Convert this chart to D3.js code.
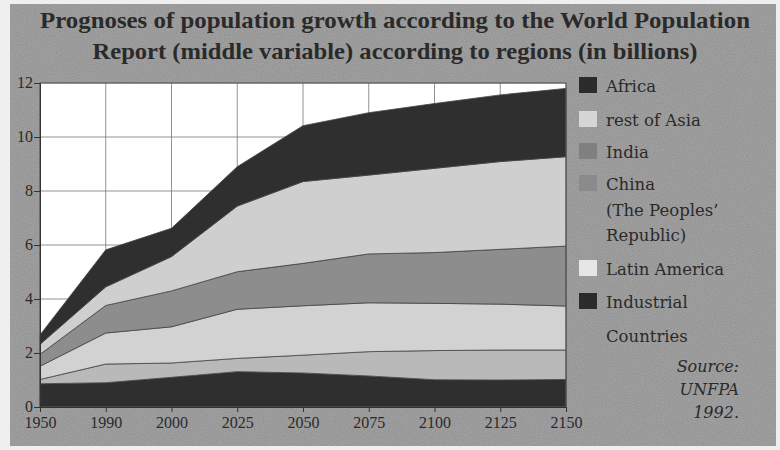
<!DOCTYPE html>
<html>
<head>
<meta charset="utf-8">
<script src="https://cdn.jsdelivr.net/npm/d3@7/dist/d3.min.js"></script>
<style>
html,body{margin:0;padding:0;background:#efefef;}
svg{display:block;}
</style>
</head>
<body>
<svg id="chart" width="780" height="450"></svg>
<script>
// ---- data ----
const years = ["1950","1990","2000","2025","2050","2075","2100","2125","2150"];
const industrial   = [0.86,0.90,1.10,1.31,1.26,1.15,1.01,1.00,1.02];
const latinAmerica = [0.16,0.69,0.53,0.49,0.66,0.90,1.08,1.11,1.09];
const china        = [0.49,1.15,1.34,1.82,1.83,1.81,1.75,1.70,1.63];
const india        = [0.44,1.02,1.33,1.39,1.57,1.81,1.88,2.03,2.22];
const restOfAsia   = [0.37,0.69,1.27,2.43,3.03,2.92,3.12,3.25,3.31];
const africa       = [0.35,1.37,1.05,1.46,2.07,2.31,2.40,2.47,2.53];
const yTicks = [0,2,4,6,8,10,12];

const seriesKeys = ["industrial","latinAmerica","china","india","restOfAsia","africa"];
const seriesValues = {industrial, latinAmerica, china, india, restOfAsia, africa};
const areaColors = {industrial:"#2f2f2f", latinAmerica:"#b9b9b9", china:"#d2d2d2", india:"#8d8d8d", restOfAsia:"#cfcfcf", africa:"#2f2f2f"};

const legendItems = [
  {lines:["Africa"], color:"#2b2b2b"},
  {lines:["rest of Asia"], color:"#d6d6d6"},
  {lines:["India"], color:"#808080"},
  {lines:["China","(The Peoples’","Republic)"], color:"#8b8b8b"},
  {lines:["Latin America"], color:"#e6e6e6"},
  {lines:["Industrial","Countries"], color:"#2b2b2b"}
];

const table = years.map((y,i)=>{
  const row = {year:y};
  seriesKeys.forEach(k=>row[k]=seriesValues[k][i]);
  return row;
});

// ---- layout ----
const svg = d3.select("#chart");
const fontSerif = "'Liberation Serif','DejaVu Serif',serif";
const fontWide = "'DejaVu Serif','Liberation Serif',serif";
const textCol = "#2a2a2a";

// panel background with grain
const defs = svg.append("defs");
const f = defs.append("filter").attr("id","grain").attr("x",0).attr("y",0).attr("width","100%").attr("height","100%");
f.append("feTurbulence").attr("type","fractalNoise").attr("baseFrequency",0.9).attr("numOctaves",1).attr("seed",3).attr("result","n");
f.append("feColorMatrix").attr("in","n").attr("type","matrix")
  .attr("values","0 0 0 0 0  0 0 0 0 0  0 0 0 0 0  0 0 0 0.18 0").attr("result","a");
f.append("feComposite").attr("in","a").attr("in2","SourceGraphic").attr("operator","in");

svg.append("rect").attr("x",10).attr("y",4).attr("width",766).attr("height",442).attr("fill","#aaaaaa");
svg.append("rect").attr("x",10).attr("y",4).attr("width",766).attr("height",442).attr("fill","#aaaaaa").attr("filter","url(#grain)");

const x = d3.scalePoint().domain(years).range([40,566]);
const y = d3.scaleLinear().domain([0,12]).range([407,83]);

// plot background
svg.append("rect").attr("x",40).attr("y",83).attr("width",526).attr("height",324).attr("fill","#ffffff");

// grid
const grid = svg.append("g").attr("stroke","#777").attr("stroke-width",0.8);
grid.selectAll("line.h").data(yTicks).join("line")
  .attr("x1",40).attr("x2",566).attr("y1",d=>y(d)).attr("y2",d=>y(d));
grid.selectAll("line.v").data(years).join("line")
  .attr("x1",d=>x(d)).attr("x2",d=>x(d)).attr("y1",83).attr("y2",407);

// stacked areas
const stack = d3.stack().keys(seriesKeys);
const layers = stack(table);
const area = d3.area()
  .x(d=>x(d.data.year))
  .y0(d=>y(d[0]))
  .y1(d=>y(d[1]));
svg.append("g").selectAll("path").data(layers).join("path")
  .attr("d",area)
  .attr("fill",d=>areaColors[d.key])
  .attr("stroke","#444")
  .attr("stroke-width",0.8)
  .attr("stroke-linejoin","round");

// plot frame
svg.append("rect").attr("x",40).attr("y",83).attr("width",526).attr("height",324)
  .attr("fill","none").attr("stroke","#555").attr("stroke-width",1);

// y axis
const yAxis = d3.axisLeft(y).tickValues(yTicks).tickSize(6).tickPadding(1).tickFormat(d3.format("d"));
const gy = svg.append("g").attr("transform","translate(40,0)").call(yAxis);
gy.select(".domain").attr("stroke","#333");
gy.selectAll(".tick line").attr("stroke","#333");
gy.selectAll("text").attr("font-family",fontSerif).attr("font-size",16).attr("fill",textCol).attr("dy","0.28em");

// x axis
const xAxis = d3.axisBottom(x).tickSize(5).tickPadding(5);
const gx = svg.append("g").attr("transform","translate(0,407)").call(xAxis);
gx.select(".domain").attr("stroke","#333");
gx.selectAll(".tick line").attr("stroke","#333");
gx.selectAll("text").attr("font-family",fontSerif).attr("font-size",16).attr("fill",textCol);

// title
const title = svg.append("g").attr("font-family",fontSerif).attr("font-weight","bold").attr("font-size",23).attr("fill",textCol).attr("text-anchor","middle");
title.append("text").attr("x",395).attr("y",28).attr("textLength",710).attr("lengthAdjust","spacingAndGlyphs")
  .text("Prognoses of population growth according to the World Population");
title.append("text").attr("x",395).attr("y",59).attr("textLength",605).attr("lengthAdjust","spacingAndGlyphs")
  .text("Report (middle variable) according to regions (in billions)");

// legend
const legendTops = [77,111,143,175,260,293];
const lg = svg.append("g").attr("font-family",fontWide).attr("font-size",16.5).attr("fill",textCol);
legendItems.forEach((it,i)=>{
  const top = legendTops[i];
  lg.append("rect").attr("x",579).attr("y",top).attr("width",18).attr("height",16).attr("fill",it.color);
  it.lines.forEach((ln,j)=>{
    lg.append("text").attr("x",606).attr("y",top+15+j*(i===3?25.5:34)).text(ln);
  });
});

// source
const src = svg.append("g").attr("font-family",fontWide).attr("font-style","italic").attr("font-size",16).attr("fill",textCol).attr("text-anchor","end");
["Source:","UNFPA","1992."].forEach((t,i)=>{
  src.append("text").attr("x",739).attr("y",372+i*23).text(t);
});
</script>
</body>
</html>
